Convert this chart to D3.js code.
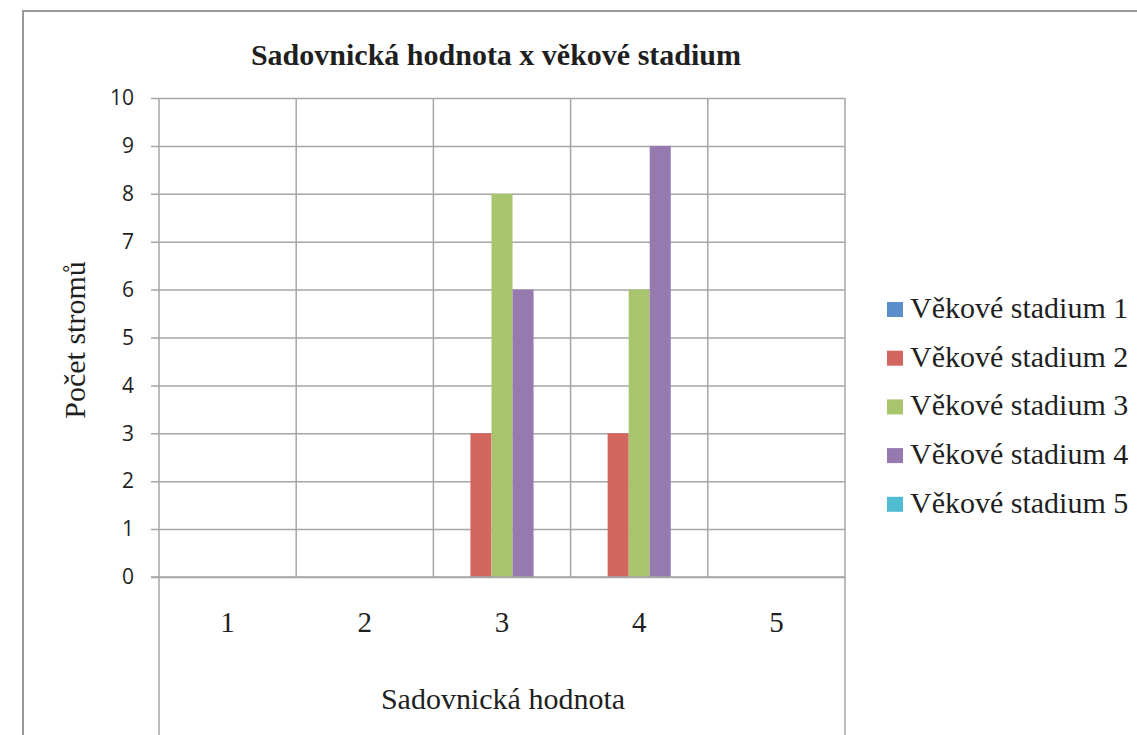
<!DOCTYPE html>
<html>
<head>
<meta charset="utf-8">
<script src="https://cdn.jsdelivr.net/npm/d3@7"></script>
<style>
  body { margin: 0; background: #fff; }
  svg { display: block; }
</style>
</head>
<body>
<svg></svg>
<script>
let width = 1137
let height = 735

let categories = ['1', '2', '3', '4', '5']
let seriesNames = ['Věkové stadium 1', 'Věkové stadium 2', 'Věkové stadium 3', 'Věkové stadium 4', 'Věkové stadium 5']
let seriesValues = [
    [0, 0, 0, 0, 0],
    [0, 0, 3, 3, 0],
    [0, 0, 8, 6, 0],
    [0, 0, 6, 9, 0],
    [0, 0, 0, 0, 0]
]
let seriesColors = ['#5B8FCB', '#D3665F', '#A8C56E', '#9579AF', '#4FBCD2']
let yTicks = [0, 1, 2, 3, 4, 5, 6, 7, 8, 9, 10]

let plot = { left: 159, right: 845, top: 98, bottom: 577 }
let gridColor = '#A6A6A6'
let serif = 'Liberation Serif, Times New Roman, serif'
let textColor = '#1f1f1f'

let svg = d3.select('svg')
    .attr('width', width)
    .attr('height', height)

// outer chart frame (runs off the right and bottom edge)
svg.append('rect')
    .attr('x', 23).attr('y', 11)
    .attr('width', width + 20).attr('height', height + 20)
    .attr('fill', '#fff')
    .attr('stroke', '#9A9A9A')
    .attr('stroke-width', 2)

let x = d3.scaleBand()
    .domain(categories)
    .range([plot.left, plot.right])
let xInner = d3.scaleBand()
    .domain(d3.range(seriesNames.length))
    .range([0, x.bandwidth()])
    .paddingOuter(0.76)
let y = d3.scaleLinear()
    .domain([0, 10])
    .range([plot.bottom, plot.top])

// horizontal gridlines with tick marks
let yAxis = d3.axisLeft(y)
    .tickValues(yTicks)
    .tickSize(plot.right - plot.left + 8)
    .tickSizeOuter(0)
    .tickPadding(17)
let yG = svg.append('g')
    .attr('transform', `translate(${plot.right},0)`)
    .call(yAxis)
yG.select('.domain').remove()
yG.selectAll('line')
    .attr('stroke', gridColor)
    .attr('stroke-width', 1.5)
yG.selectAll('text')
    .attr('font-family', 'Open Sans, sans-serif')
    .attr('font-size', 21)
    .attr('fill', textColor)

// vertical gridlines at category boundaries
let boundaries = categories.map(c => x(c)).concat([plot.right])
svg.append('g').selectAll('line')
    .data(boundaries).enter()
    .append('line')
    .attr('x1', d => d).attr('x2', d => d)
    .attr('y1', plot.top)
    .attr('y2', (d, i) => (i === 0 || i === boundaries.length - 1) ? height : plot.bottom)
    .attr('stroke', gridColor)
    .attr('stroke-width', 1.5)

// bars
let groups = svg.append('g').selectAll('g')
    .data(seriesValues).enter()
    .append('g')
    .attr('fill', (d, i) => seriesColors[i])
groups.each(function (values, si) {
    d3.select(this).selectAll('rect')
        .data(values).enter()
        .append('rect')
        .attr('x', (v, ci) => x(categories[ci]) + xInner(si))
        .attr('width', xInner.bandwidth())
        .attr('y', v => y(v))
        .attr('height', v => y(0) - y(v))
})

// x axis line on top
svg.append('line')
    .attr('x1', plot.left - 8).attr('x2', plot.right)
    .attr('y1', plot.bottom).attr('y2', plot.bottom)
    .attr('stroke', gridColor)
    .attr('stroke-width', 1.5)

// category labels
svg.append('g').selectAll('text')
    .data(categories).enter()
    .append('text')
    .attr('x', d => x(d) + x.bandwidth() / 2)
    .attr('y', 632)
    .attr('text-anchor', 'middle')
    .attr('font-family', serif)
    .attr('font-size', 29)
    .attr('fill', textColor)
    .text(d => d)

// titles
svg.append('text')
    .attr('x', 496).attr('y', 65)
    .attr('text-anchor', 'middle')
    .attr('font-family', serif)
    .attr('font-weight', 'bold')
    .attr('font-size', 30)
    .attr('fill', textColor)
    .text('Sadovnická hodnota x věkové stadium')

svg.append('text')
    .attr('x', 503).attr('y', 709)
    .attr('text-anchor', 'middle')
    .attr('font-family', serif)
    .attr('font-size', 30)
    .attr('fill', textColor)
    .text('Sadovnická hodnota')

svg.append('text')
    .attr('transform', 'translate(85,340) rotate(-90)')
    .attr('text-anchor', 'middle')
    .attr('font-family', serif)
    .attr('font-size', 30)
    .attr('fill', textColor)
    .text('Počet stromů')

// legend
let legend = svg.append('g').selectAll('g')
    .data(seriesNames).enter()
    .append('g')
    .attr('transform', (d, i) => `translate(887,${318 + i * 48.7})`)
legend.append('rect')
    .attr('x', 0).attr('y', -16)
    .attr('width', 16).attr('height', 15)
    .attr('fill', (d, i) => seriesColors[i])
legend.append('text')
    .attr('x', 23).attr('y', 0)
    .attr('font-family', serif)
    .attr('font-size', 30)
    .attr('fill', textColor)
    .text(d => d)
</script>
</body>
</html>
